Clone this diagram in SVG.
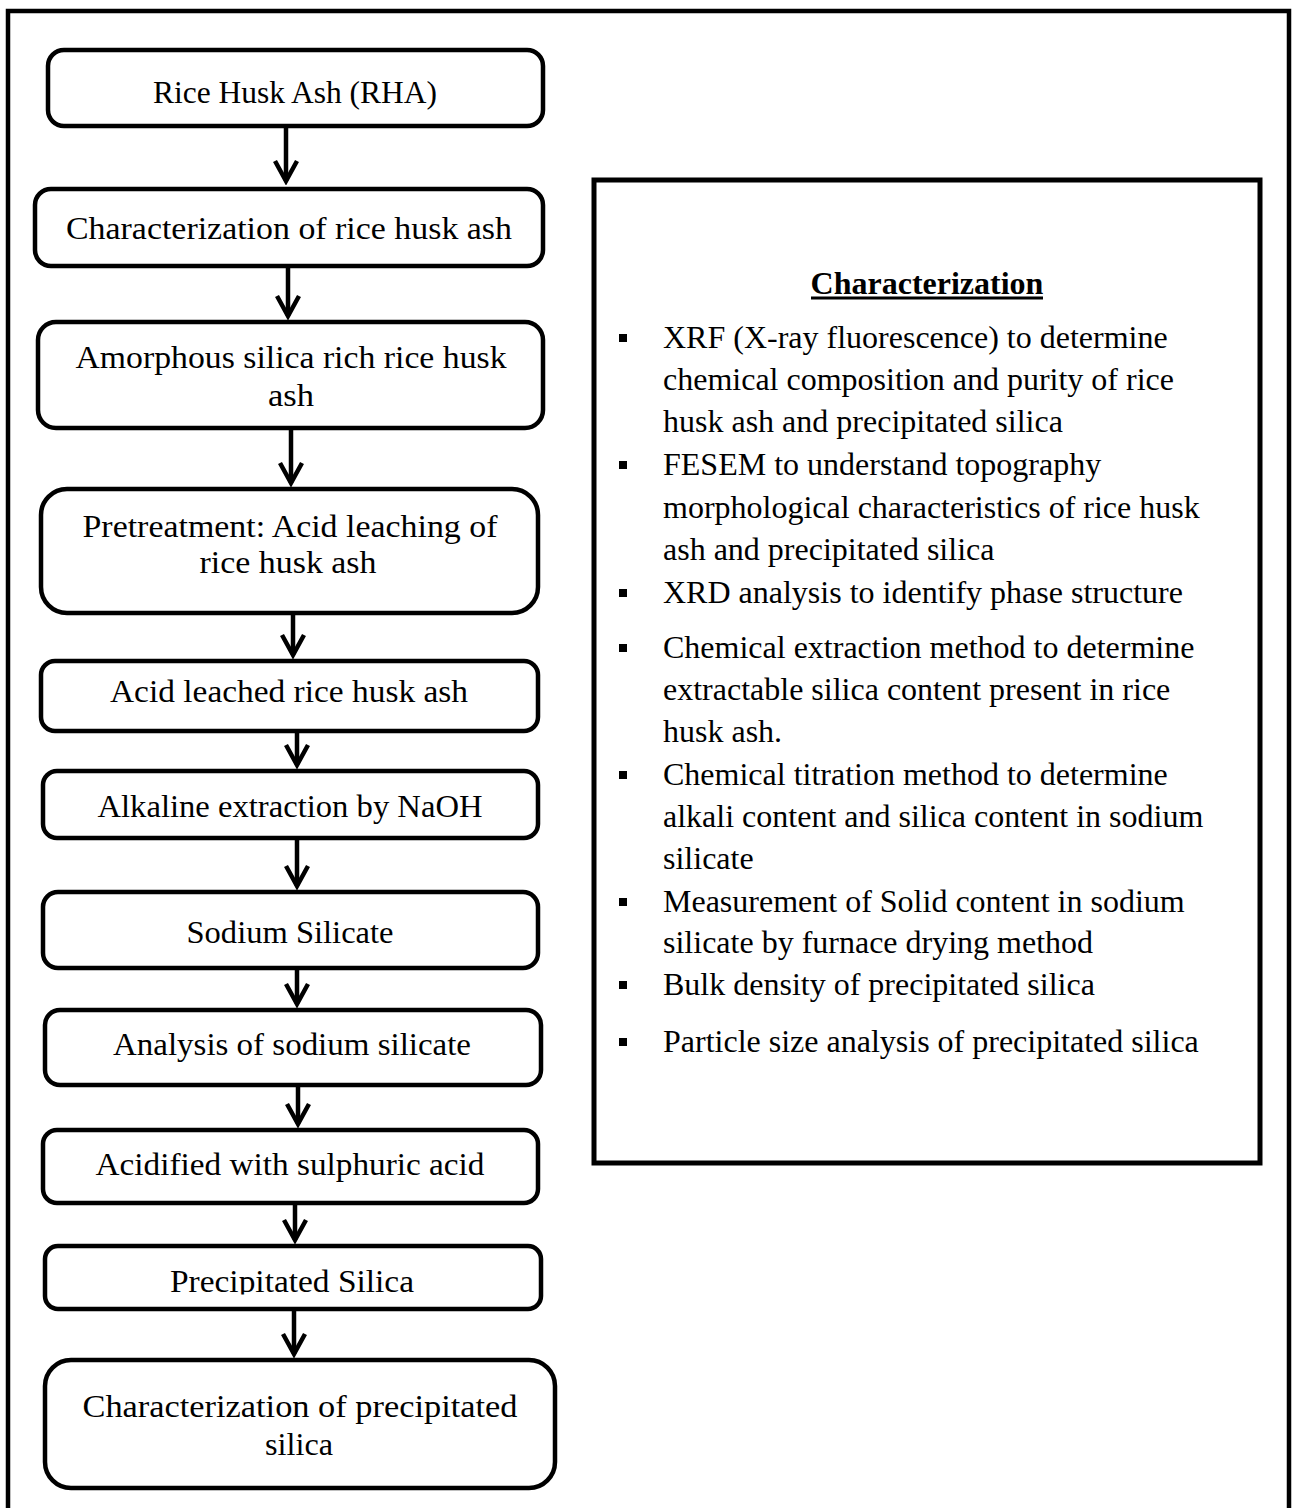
<svg xmlns="http://www.w3.org/2000/svg" width="1296" height="1508" viewBox="0 0 1296 1508">
<style>
.box{fill:#fff;stroke:#000;stroke-width:4.5}
.lbl{font-family:"Liberation Serif","Times New Roman",serif;font-size:32px;text-anchor:middle;fill:#000}
.item{font-family:"Liberation Serif","Times New Roman",serif;font-size:32px;fill:#000}
.title{font-family:"Liberation Serif","Times New Roman",serif;font-size:32px;font-weight:bold;text-anchor:middle;fill:#000}
.conn line{stroke:#000;stroke-width:4.5;fill:none;marker-end:url(#arr)}
.bul{fill:#000}
</style>
<defs>
<marker id="arr" markerUnits="userSpaceOnUse" viewBox="-26 -14 30 28" refX="0" refY="0" markerWidth="30" markerHeight="28" orient="auto">
<path d="M-20,-11 L0,0 L-20,11" fill="none" stroke="#000" stroke-width="4.5" stroke-linejoin="miter"/>
</marker>
<clipPath id="clip10"><rect x="45" y="1246" width="496" height="48.5"/></clipPath>
</defs>
<rect width="1296" height="1508" fill="#fff"/>
<path d="M8,1520 V11 H1289 V1520" fill="none" stroke="#000" stroke-width="4.5"/>

<g id="connectors" class="conn">
<line x1="286" y1="128" x2="286" y2="181"/>
<line x1="288" y1="268" x2="288" y2="316"/>
<line x1="291" y1="430" x2="291" y2="483"/>
<line x1="293" y1="615" x2="293" y2="655"/>
<line x1="297" y1="733" x2="297" y2="765"/>
<line x1="297" y1="836" x2="297" y2="886"/>
<line x1="297" y1="970" x2="297" y2="1004"/>
<line x1="298" y1="1087" x2="298" y2="1124"/>
<line x1="295" y1="1200" x2="295" y2="1240"/>
<line x1="294" y1="1311" x2="294" y2="1354"/>
</g>

<g id="n1"><rect class="box" x="48" y="50" width="495" height="76" rx="16"/><text class="lbl" x="295" y="103" textLength="284" lengthAdjust="spacingAndGlyphs">Rice Husk Ash (RHA)</text></g>
<g id="n2"><rect class="box" x="35" y="189" width="508" height="77" rx="16"/><text class="lbl" x="289" y="239" textLength="446" lengthAdjust="spacingAndGlyphs">Characterization of rice husk ash</text></g>
<g id="n3"><rect class="box" x="38" y="322" width="505" height="106" rx="18"/><text class="lbl" x="291" y="368" textLength="431" lengthAdjust="spacingAndGlyphs">Amorphous silica rich rice husk</text><text class="lbl" x="291" y="406" textLength="46" lengthAdjust="spacingAndGlyphs">ash</text></g>
<g id="n4"><rect class="box" x="41" y="489" width="497" height="124" rx="26"/><text class="lbl" x="290" y="537" textLength="415" lengthAdjust="spacingAndGlyphs">Pretreatment: Acid leaching of</text><text class="lbl" x="288" y="573" textLength="177" lengthAdjust="spacingAndGlyphs">rice husk ash</text></g>
<g id="n5"><rect class="box" x="41" y="661" width="497" height="70" rx="14"/><text class="lbl" x="289" y="702" textLength="358" lengthAdjust="spacingAndGlyphs">Acid leached rice husk ash</text></g>
<g id="n6"><rect class="box" x="43" y="771" width="495" height="67" rx="14"/><text class="lbl" x="290" y="817" textLength="385" lengthAdjust="spacingAndGlyphs">Alkaline extraction by NaOH</text></g>
<g id="n7"><rect class="box" x="43" y="892" width="495" height="76" rx="15"/><text class="lbl" x="290" y="943" textLength="207" lengthAdjust="spacingAndGlyphs">Sodium Silicate</text></g>
<g id="n8"><rect class="box" x="45" y="1010" width="496" height="75" rx="15"/><text class="lbl" x="292" y="1055" textLength="358" lengthAdjust="spacingAndGlyphs">Analysis of sodium silicate</text></g>
<g id="n9"><rect class="box" x="43" y="1130" width="495" height="73" rx="14"/><text class="lbl" x="290" y="1175" textLength="389" lengthAdjust="spacingAndGlyphs">Acidified with sulphuric acid</text></g>
<g id="n10"><rect class="box" x="45" y="1246" width="496" height="63" rx="13"/><text class="lbl" x="292" y="1292" textLength="244" lengthAdjust="spacingAndGlyphs" clip-path="url(#clip10)">Precipitated Silica</text></g>
<g id="n11"><rect class="box" x="45" y="1360" width="510" height="128" rx="26"/><text class="lbl" x="300" y="1417" textLength="435" lengthAdjust="spacingAndGlyphs">Characterization of precipitated</text><text class="lbl" x="299" y="1455" textLength="68" lengthAdjust="spacingAndGlyphs">silica</text></g>

<g id="characterization">
<rect x="594" y="180" width="666" height="983" fill="#fff" stroke="#000" stroke-width="5"/>
<text class="title" x="927" y="294">Characterization</text>
<line x1="811" y1="298" x2="1043" y2="298" stroke="#000" stroke-width="3"/>
<rect class="bul" x="619" y="334" width="8" height="8"/>
<rect class="bul" x="619" y="461" width="8" height="8"/>
<rect class="bul" x="619" y="589" width="8" height="8"/>
<rect class="bul" x="619" y="644" width="8" height="8"/>
<rect class="bul" x="619" y="771" width="8" height="8"/>
<rect class="bul" x="619" y="898" width="8" height="8"/>
<rect class="bul" x="619" y="981" width="8" height="8"/>
<rect class="bul" x="619" y="1038" width="8" height="8"/>
<text class="item" x="663" y="348">XRF (X-ray fluorescence) to determine</text>
<text class="item" x="663" y="390">chemical composition and purity of rice</text>
<text class="item" x="663" y="432">husk ash and precipitated silica</text>
<text class="item" x="663" y="475">FESEM to understand topography</text>
<text class="item" x="663" y="518">morphological characteristics of rice husk</text>
<text class="item" x="663" y="560">ash and precipitated silica</text>
<text class="item" x="663" y="603">XRD analysis to identify phase structure</text>
<text class="item" x="663" y="658">Chemical extraction method to determine</text>
<text class="item" x="663" y="700">extractable silica content present in rice</text>
<text class="item" x="663" y="742">husk ash.</text>
<text class="item" x="663" y="785">Chemical titration method to determine</text>
<text class="item" x="663" y="827">alkali content and silica content in sodium</text>
<text class="item" x="663" y="869">silicate</text>
<text class="item" x="663" y="912">Measurement of Solid content in sodium</text>
<text class="item" x="663" y="953">silicate by furnace drying method</text>
<text class="item" x="663" y="995">Bulk density of precipitated silica</text>
<text class="item" x="663" y="1052">Particle size analysis of precipitated silica</text>
</g>
</svg>
